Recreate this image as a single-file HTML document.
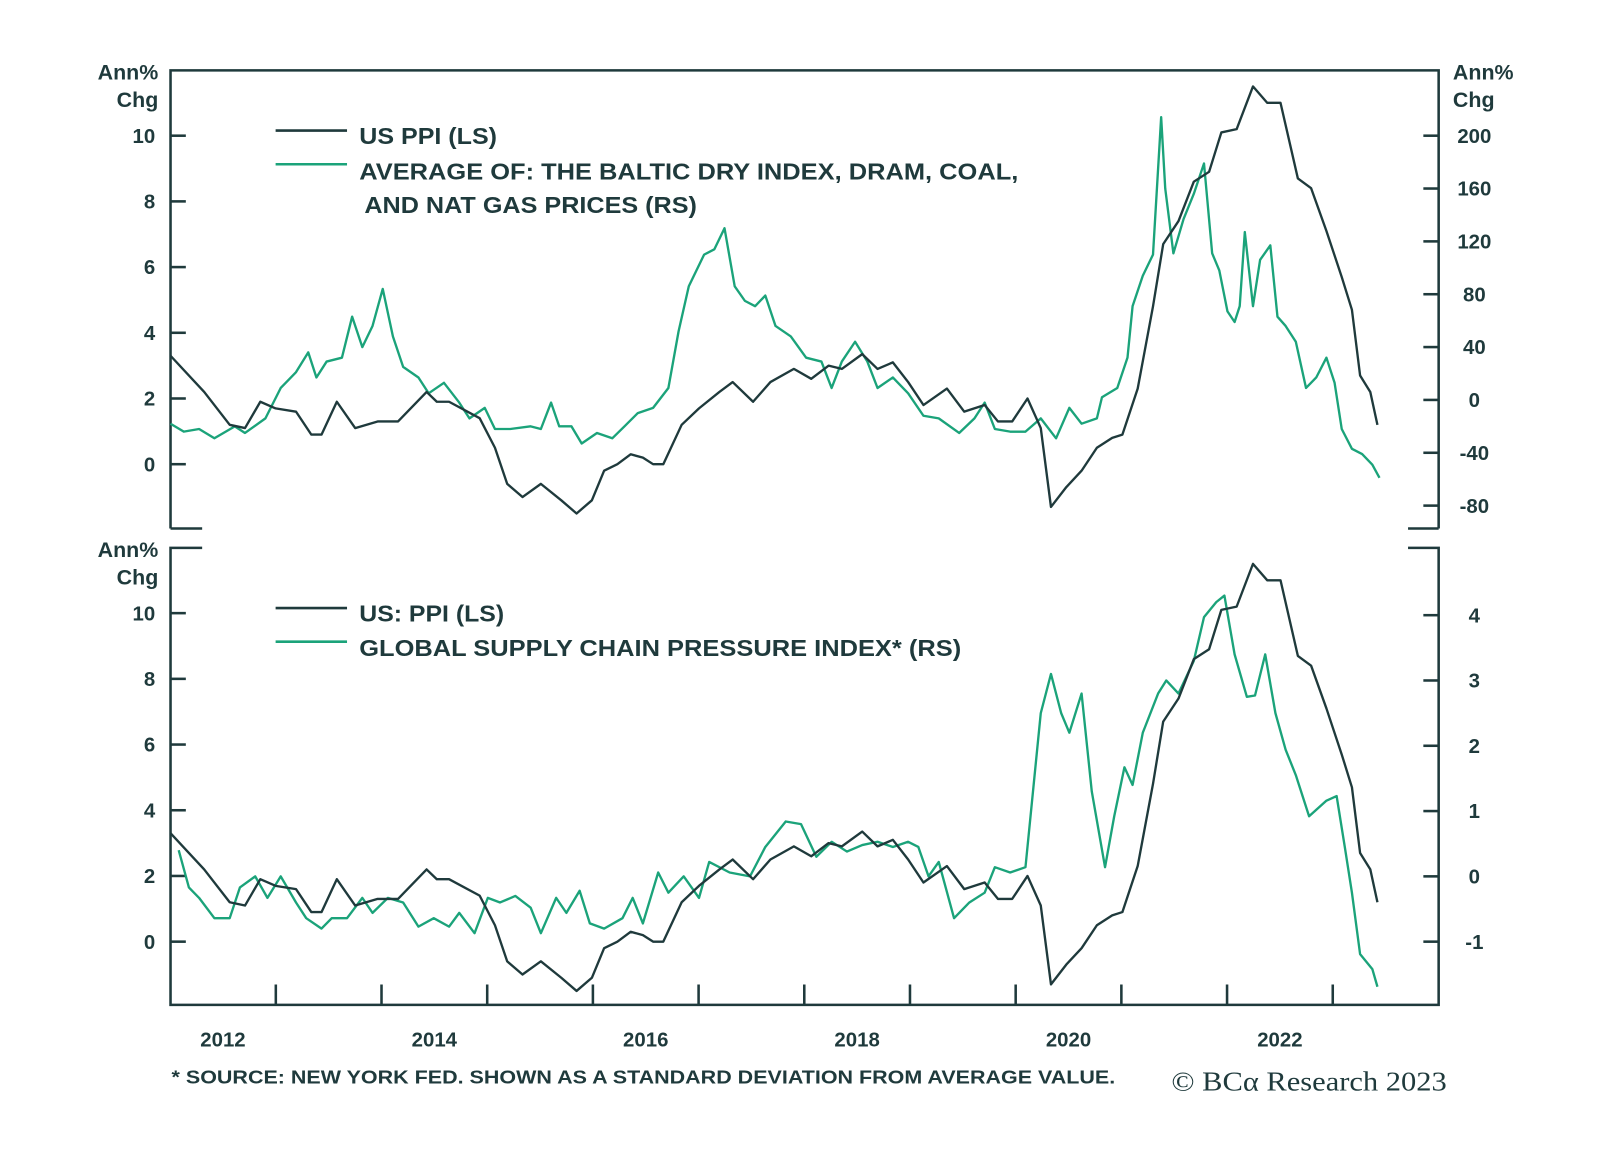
<!DOCTYPE html>
<html><head><meta charset="utf-8"><style>
html,body{margin:0;padding:0;background:#fff}
svg text{font-family:"Liberation Sans",sans-serif;font-weight:bold;fill:#1f3a3c}
</style></head><body>
<svg id="chart" width="1600" height="1161" viewBox="0 0 1568 1138" xmlns="http://www.w3.org/2000/svg">
<g id="frame" stroke="#1f3a3c" stroke-width="2.5" fill="none">
<polyline points="167,518 167,69 1410,69 1410,518"/>
<line x1="167" y1="518" x2="198" y2="518"/><line x1="1380" y1="518" x2="1410" y2="518"/>
<polyline points="198,537 167,537 167,985 1410,985 1410,537 1380,537"/>
</g>
<g id="axes"></g>
<g id="series"></g>
<g>
<line x1="270" y1="128" x2="340" y2="128" stroke="#1f3a3c" stroke-width="2.5"/>
<line x1="270" y1="161" x2="340" y2="161" stroke="#1ba37a" stroke-width="2.5"/>
<text x="352" y="141" font-size="23" textLength="135" lengthAdjust="spacingAndGlyphs">US PPI (LS)</text>
<text x="352" y="176" font-size="23" textLength="646" lengthAdjust="spacingAndGlyphs">AVERAGE OF: THE BALTIC DRY INDEX, DRAM, COAL,</text>
<text x="357" y="209" font-size="23" textLength="326" lengthAdjust="spacingAndGlyphs">AND NAT GAS PRICES (RS)</text>
</g>
<g>
<line x1="270" y1="596" x2="340" y2="596" stroke="#1f3a3c" stroke-width="2.5"/>
<line x1="270" y1="629" x2="340" y2="629" stroke="#1ba37a" stroke-width="2.5"/>
<text x="352" y="609" font-size="23" textLength="142" lengthAdjust="spacingAndGlyphs">US: PPI (LS)</text>
<text x="352" y="643" font-size="23" textLength="590" lengthAdjust="spacingAndGlyphs">GLOBAL SUPPLY CHAIN PRESSURE INDEX* (RS)</text>
</g>
<text x="155" y="78" font-size="21" text-anchor="end">Ann%</text>
<text x="155" y="105" font-size="21" text-anchor="end">Chg</text>
<text x="1424" y="78" font-size="21">Ann%</text>
<text x="1424" y="105" font-size="21">Chg</text>
<text x="155" y="546" font-size="21" text-anchor="end">Ann%</text>
<text x="155" y="573" font-size="21" text-anchor="end">Chg</text>
<text x="168" y="1062" font-size="18" textLength="925" lengthAdjust="spacingAndGlyphs">* SOURCE: NEW YORK FED. SHOWN AS A STANDARD DEVIATION FROM AVERAGE VALUE.</text>
<text x="1148" y="1069" font-size="27" textLength="270" lengthAdjust="spacingAndGlyphs" style="font-family:'Liberation Serif',serif;font-weight:normal">© BCα Research 2023</text>
</svg>
<script>
const yearLabels=[2012,2014,2016,2018,2020,2022];
const topLeftTicks=[0,2,4,6,8,10];
const topRightTicks=[-80,-40,0,40,80,120,160,200];
const botLeftTicks=[0,2,4,6,8,10];
const botRightTicks=[-1,0,1,2,3,4];
const PXY=103.6;
const ppiX=[167,200,225,240,255,270,290,305,315,330,348,370,390,418,428,440,470,485,497,512,530,550,565,580,592,605,618,630,640,650,668,685,705,718,738,755,778,795,812,825,845,860,875,890,905,928,945,965,978,992,1007,1020,1030,1045,1060,1075,1090,1100,1115,1130,1140,1155,1170,1185,1197,1212,1228,1242,1255,1272,1285,1300,1315,1325,1333,1343,1350];
const ppiDates=ppiX.map(x=>2012+(x-166.6)/PXY);
const ppiValues=[3.3,2.2,1.2,1.1,1.9,1.7,1.6,0.9,0.9,1.9,1.1,1.3,1.3,2.2,1.9,1.9,1.4,0.5,-0.6,-1.0,-0.6,-1.1,-1.5,-1.1,-0.2,0,0.3,0.2,0,0,1.2,1.7,2.2,2.5,1.9,2.5,2.9,2.6,3.0,2.9,3.35,2.9,3.1,2.5,1.8,2.3,1.6,1.8,1.3,1.3,2.0,1.1,-1.3,-0.7,-0.2,0.5,0.8,0.9,2.3,4.8,6.7,7.4,8.6,8.9,10.1,10.2,11.5,11.0,11.0,8.7,8.4,7.1,5.7,4.7,2.7,2.2,1.2];
const cmdX=[167,180,195,210,230,240,260,275,290,302,310,320,335,345,355,365,375,385,395,410,420,435,450,460,475,485,500,520,530,540,548,560,570,585,600,612,625,640,655,665,675,690,700,710,720,730,740,750,760,775,790,805,815,825,838,850,860,875,890,905,920,940,955,965,975,990,1005,1020,1035,1048,1060,1075,1080,1095,1105,1110,1120,1130,1138,1142,1150,1160,1170,1180,1188,1195,1203,1210,1215,1220,1228,1235,1245,1252,1260,1270,1280,1290,1300,1308,1315,1325,1335,1345,1352];
const cmdDates=cmdX.map(x=>2012+(x-166.6)/PXY);
const cmdValues=[-18,-24,-22,-29,-20,-25,-14,9,21,36,17,29,32,63,40,56,84,48,25,17,5,13,-2,-14,-6,-22,-22,-20,-22,-2,-20,-20,-33,-25,-29,-20,-10,-6,9,52,86,110,114,130,86,75,71,79,56,48,32,29,9,29,44,29,9,17,5,-12,-14,-25,-14,-2,-22,-24,-24,-14,-29,-6,-18,-14,2,9,32,71,94,110,214,160,111,137,156,179,111,98,67,59,71,127,71,106,117,63,56,44,9,17,32,13,-22,-37,-41,-49,-59];
const gsX=[175,185,195,210,225,235,250,262,275,290,300,315,325,340,355,365,380,395,410,425,440,450,465,478,490,505,520,530,545,555,568,578,592,610,620,630,645,655,670,685,695,715,735,750,770,785,800,815,830,845,860,875,890,900,910,920,935,950,965,975,990,1005,1020,1030,1040,1048,1060,1070,1083,1092,1102,1110,1120,1135,1143,1155,1170,1180,1192,1200,1210,1222,1230,1240,1250,1260,1270,1283,1300,1310,1318,1325,1333,1345,1350];
const gsDates=gsX.map(x=>2012+(x-166.6)/PXY);
const gsValues=[0.4,-0.17,-0.33,-0.64,-0.64,-0.17,0,-0.33,0,-0.4,-0.64,-0.8,-0.64,-0.64,-0.33,-0.56,-0.33,-0.4,-0.77,-0.64,-0.77,-0.56,-0.87,-0.33,-0.4,-0.3,-0.48,-0.87,-0.33,-0.56,-0.22,-0.72,-0.8,-0.64,-0.33,-0.72,0.06,-0.25,0,-0.33,0.22,0.06,0,0.45,0.84,0.8,0.3,0.53,0.38,0.48,0.53,0.45,0.53,0.45,0,0.22,-0.64,-0.4,-0.25,0.14,0.06,0.14,2.5,3.1,2.5,2.2,2.8,1.3,0.14,0.92,1.67,1.4,2.2,2.8,3.0,2.8,3.3,3.97,4.2,4.3,3.4,2.75,2.77,3.4,2.5,1.94,1.55,0.92,1.16,1.23,0.45,-0.25,-1.19,-1.42,-1.69];

const NS='http://www.w3.org/2000/svg';
const xs=t=>166.6+(t-2012)*PXY;
const yTL=v=>455-v*32.2, yTR=v=>392-v*1.295;
const yBL=v=>923-v*32.2, yBR=v=>859-v*64;
const axes=document.getElementById('axes'), series=document.getElementById('series');
function mk(tag,attrs,parent){const e=document.createElementNS(NS,tag);for(const k in attrs)e.setAttribute(k,attrs[k]);parent.appendChild(e);return e;}
function tickSet(vals,yf,side,name){
  vals.forEach(v=>{
    const y=yf(v);
    const l= side==='L'? mk('line',{x1:167,x2:182,y1:y,y2:y,stroke:'#1f3a3c','stroke-width':2.5},axes) : mk('line',{x1:1395,x2:1410,y1:y,y2:y,stroke:'#1f3a3c','stroke-width':2.5},axes);
    
    
    const t= side==='L'? mk('text',{x:152,y:y+7,'font-size':20,'text-anchor':'end'},axes) : mk('text',{x:1445,y:y+7,'font-size':20,'text-anchor':'middle'},axes);
    t.textContent=v;
    
    
  });
}
tickSet(topLeftTicks,yTL,'L','top-left-axis');
tickSet(topRightTicks,yTR,'R','top-right-axis');
tickSet(botLeftTicks,yBL,'L','bottom-left-axis');
tickSet(botRightTicks,yBR,'R','bottom-right-axis');
for(let yr=2013;yr<=2023;yr++){
  const l=mk('line',{x1:xs(yr),x2:xs(yr),y1:965,y2:985,stroke:'#1f3a3c','stroke-width':2.5},axes);
  
  
}
yearLabels.forEach(yr=>{
  const t=mk('text',{x:xs(yr+0.5),y:1026,'font-size':20,'text-anchor':'middle'},axes);
  t.textContent=yr;
  
  
});
function line(dates,vals,yf,color,name){
  const p=mk('polyline',{points:dates.map((d,i)=>xs(d).toFixed(1)+','+yf(vals[i]).toFixed(1)).join(' '),fill:'none',stroke:color,'stroke-width':2.3,'stroke-linejoin':'round'},series);
  
  
}
line(cmdDates,cmdValues,yTR,'#1ba37a','commodity-average-line');
line(ppiDates,ppiValues,yTL,'#1f3a3c','top-us-ppi-line');
line(gsDates,gsValues,yBR,'#1ba37a','gscpi-line');
line(ppiDates,ppiValues,yBL,'#1f3a3c','bottom-us-ppi-line');
</script>
</body></html>
